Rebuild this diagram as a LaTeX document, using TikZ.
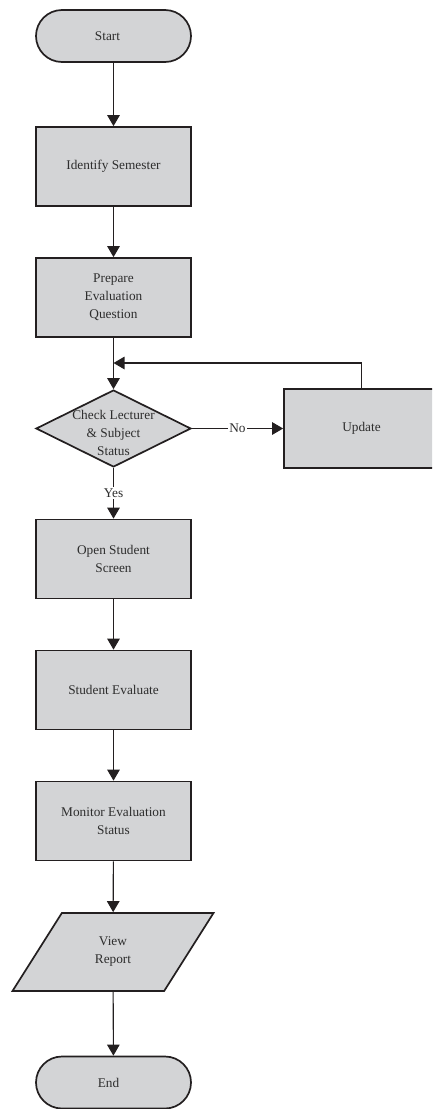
\documentclass[tikz,border=0pt]{standalone}
\usepackage{fontspec}
\setmainfont{Liberation Serif}
\usetikzlibrary{shapes.geometric,arrows.meta}
\definecolor{boxfill}{RGB}{211,212,214}
\definecolor{ink}{RGB}{35,31,32}
\definecolor{txt}{RGB}{45,45,45}
\begin{document}
\begin{tikzpicture}[x=1pt,y=-1pt,
  font=\fontsize{13.3}{18}\selectfont, text=txt,
  shapebase/.style={draw=ink, line width=1.7pt, fill=boxfill, inner sep=0pt, align=center},
  procbox/.style={shapebase, rectangle, minimum width=155pt, minimum height=79pt},
  termbox/.style={shapebase, rectangle, rounded corners=26pt, minimum width=155pt, minimum height=52pt},
  decbox/.style={shapebase, diamond, minimum width=155pt, minimum height=77pt},
  iobox/.style={shapebase, trapezium, trapezium stretches=true, trapezium left angle=59.5, trapezium right angle=120.5, minimum width=202pt, minimum height=78pt},
  flow/.style={draw=ink, line width=1.1pt, -{Triangle[length=11pt,width=12.5pt]}},
  lbl/.style={fill=white, inner sep=1.5pt}
]
\clip (0,0) rectangle (432,1109);
\node[termbox] (start) at (113.5,36) {Start\hspace*{12pt}};
\node[procbox] (ident) at (113.5,166.5) {Identify Semester};
\node[procbox] (prep) at (113.5,297.5) {Prepare\\Evaluation\\Question};
\node[decbox] (check) at (113.5,428.5) {};
\node[align=center, inner sep=0pt] (checkt) at (113.5,433) {Check Lecturer\\\& Subject\\Status};
\node[procbox] (upd) at (361.5,428.5) {Update};
\node[procbox] (open) at (113.5,559) {Open Student\\Screen};
\node[procbox] (eval) at (113.5,690) {Student Evaluate};
\node[procbox] (mon) at (113.5,821) {Monitor Evaluation\\Status};
\node[iobox] (view) at (113,952) {View\\Report};
\node[termbox] (end) at (113.5,1082.5) {End\hspace*{10pt}};
\coordinate (join) at (113.5,363);
\draw[flow] (start) -- (ident);
\draw[flow] (ident) -- (prep);
\draw[flow] (prep) -- (check);
\draw[flow] (check) -- node[lbl]{No} (upd);
\draw[flow] (upd.north) |- (join);
\draw[flow] (check) -- node[lbl]{Yes} (open);
\draw[flow] (open) -- (eval);
\draw[flow] (eval) -- (mon);
\draw[flow] (mon) -- (view);
\draw[flow] (view) -- (end);
\end{tikzpicture}
\end{document}
